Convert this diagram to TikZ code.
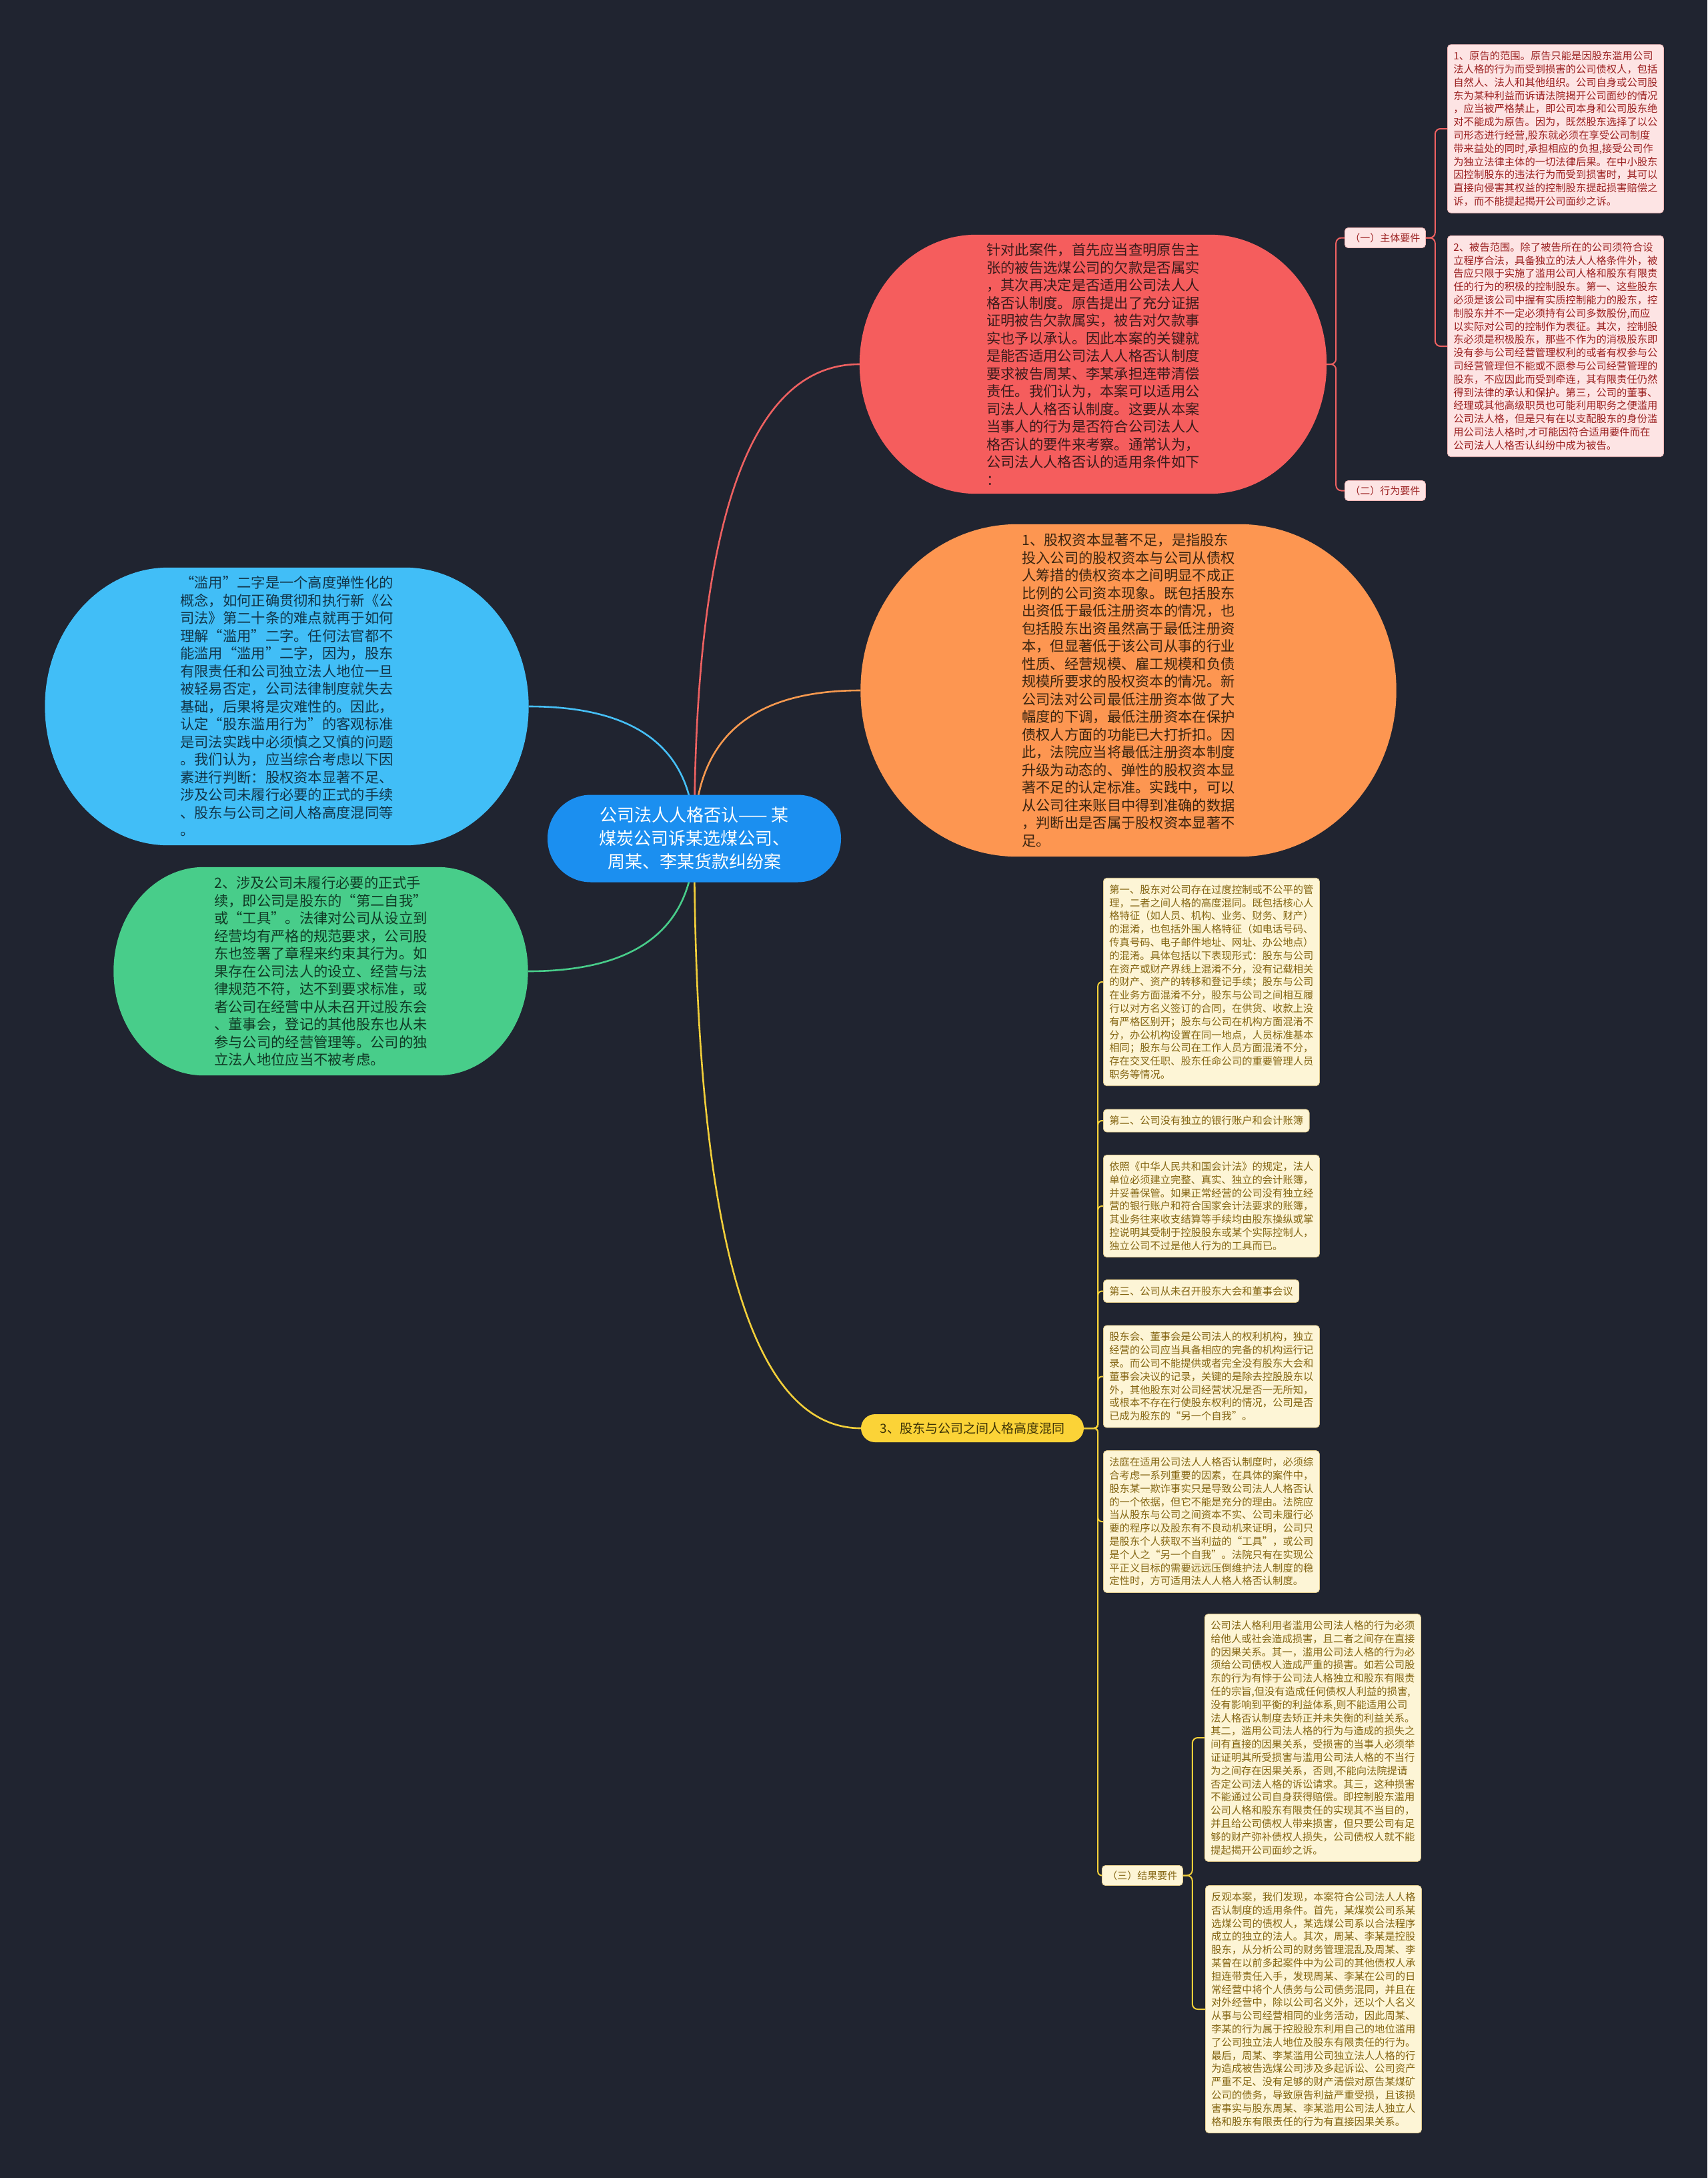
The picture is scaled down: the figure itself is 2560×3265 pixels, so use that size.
\documentclass[tikz,border=0pt]{standalone}
\usepackage{fontspec}
\setmainfont{Noto Sans CJK SC}
\usetikzlibrary{calc}
\pgfdeclarelayer{back}
\pgfdeclarelayer{bg}
\pgfdeclarelayer{mid}
\pgfsetlayers{back,bg,mid,main}

\definecolor{bgc}{HTML}{202430}
\definecolor{redfill}{HTML}{F55D5D}
\definecolor{redtxt}{HTML}{3A1B1B}
\definecolor{redline}{HTML}{EE6161}
\definecolor{orgfill}{HTML}{FD9651}
\definecolor{orgtxt}{HTML}{3A2410}
\definecolor{orgline}{HTML}{F7994F}
\definecolor{blufill}{HTML}{41BEF7}
\definecolor{blutxt}{HTML}{123549}
\definecolor{bluline}{HTML}{46BFF6}
\definecolor{grnfill}{HTML}{48CD8A}
\definecolor{grntxt}{HTML}{103A25}
\definecolor{grnline}{HTML}{48CD8A}
\definecolor{ctrfill}{HTML}{1B8FF0}
\definecolor{yelfill}{HTML}{FBD337}
\definecolor{yeltxt}{HTML}{3D3306}
\definecolor{yelline}{HTML}{F2CF3A}
\definecolor{pinkfill}{HTML}{FDE4E4}
\definecolor{pinkline}{HTML}{F0B5B5}
\definecolor{pinktxt}{HTML}{9B2020}
\definecolor{creamfill}{HTML}{FDF5D6}
\definecolor{creamline}{HTML}{E0C98A}
\definecolor{creamtxt}{HTML}{846512}

% elliptical-corner blob behind a node: name, rx, ry, colour
\newcommand\blobfill[4]{%
\begin{pgfonlayer}{mid}
\fill[#4] ($(#1.north west)+(#2,0)$) -- ($(#1.north east)+(-#2,0)$)
  arc[start angle=90,end angle=0,x radius=#2pt,y radius=#3pt]
  -- ($(#1.south east)+(0,-#3)$)
  arc[start angle=0,end angle=-90,x radius=#2pt,y radius=#3pt]
  -- ($(#1.south west)+(#2,0)$)
  arc[start angle=-90,end angle=-180,x radius=#2pt,y radius=#3pt]
  -- ($(#1.north west)+(0,#3)$)
  arc[start angle=180,end angle=90,x radius=#2pt,y radius=#3pt]
  -- cycle;
\end{pgfonlayer}}

\begin{document}
\begin{tikzpicture}[x=1pt,y=-1pt,
  bigtext/.style={inner sep=0pt, align=left, font=\fontsize{21.3}{26.5}\selectfont},
  smallbox/.style={anchor=west, rounded corners=5pt, inner xsep=9pt, inner ysep=10pt,
     align=left, font=\fontsize{15.3}{19.8}\selectfont, line width=0.8pt},
  creambox/.style={smallbox, fill=creamfill, draw=creamline, text=creamtxt},
  pinkbox/.style={smallbox, fill=pinkfill, draw=pinkline, text=pinktxt},
  widebox/.style={text width=306pt},
  shortbox/.style={inner ysep=0pt, minimum height=34pt},
  tagbox/.style={anchor=west, rounded corners=5pt, inner xsep=8pt, inner ysep=0pt,
     minimum height=30pt, font=\fontsize{15}{18}\selectfont, line width=0.8pt},
  mainlink/.style={line width=2.6pt},
  sublink/.style={line width=2pt, rounded corners=8pt}
]
\begin{pgfonlayer}{back}
\fill[bgc] (0,0) rectangle (2560,3265);
\end{pgfonlayer}

% ---- central topic ----
\node[fill=ctrfill, text=white, rounded corners=65pt, minimum width=440pt,
      minimum height=131pt, inner sep=0pt, align=center,
      font=\fontsize{26}{35}\selectfont] (ctr) at (1041,1257)
  {公司法人人格否认—— 某\\煤炭公司诉某选煤公司、\\周某、李某货款纠纷案};

% ---- red ----
\node[bigtext, text=redtxt, minimum width=700pt, minimum height=388pt] (red) at (1639,546)
{针对此案件，首先应当查明原告主\\
张的被告选煤公司的欠款是否属实\\
，其次再决定是否适用公司法人人\\
格否认制度。原告提出了充分证据\\
证明被告欠款属实，被告对欠款事\\
实也予以承认。因此本案的关键就\\
是能否适用公司法人人格否认制度\\
要求被告周某、李某承担连带清偿\\
责任。我们认为，本案可以适用公\\
司法人人格否认制度。这要从本案\\
当事人的行为是否符合公司法人人\\
格否认的要件来考察。通常认为，\\
公司法人人格否认的适用条件如下\\
：};
\blobfill{red}{175}{194}{redfill}

% ---- orange ----
\node[bigtext, text=orgtxt, minimum width=803pt, minimum height=498pt] (org) at (1692,1035)
{1、股权资本显著不足，是指股东\\
投入公司的股权资本与公司从债权\\
人筹措的债权资本之间明显不成正\\
比例的公司资本现象。既包括股东\\
出资低于最低注册资本的情况，也\\
包括股东出资虽然高于最低注册资\\
本，但显著低于该公司从事的行业\\
性质、经营规模、雇工规模和负债\\
规模所要求的股权资本的情况。新\\
公司法对公司最低注册资本做了大\\
幅度的下调，最低注册资本在保护\\
债权人方面的功能已大打折扣。因\\
此，法院应当将最低注册资本制度\\
升级为动态的、弹性的股权资本显\\
著不足的认定标准。实践中，可以\\
从公司往来账目中得到准确的数据\\
，判断出是否属于股权资本显著不\\
足。};
\blobfill{org}{235}{249}{orgfill}

% ---- blue ----
\node[bigtext, text=blutxt, minimum width=725pt, minimum height=416pt] (blu) at (430,1059)
{“滥用”二字是一个高度弹性化的\\
概念，如何正确贯彻和执行新《公\\
司法》第二十条的难点就再于如何\\
理解“滥用”二字。任何法官都不\\
能滥用“滥用”二字，因为，股东\\
有限责任和公司独立法人地位一旦\\
被轻易否定，公司法律制度就失去\\
基础，后果将是灾难性的。因此，\\
认定“股东滥用行为”的客观标准\\
是司法实践中必须慎之又慎的问题\\
。我们认为，应当综合考虑以下因\\
素进行判断：股权资本显著不足、\\
涉及公司未履行必要的正式的手续\\
、股东与公司之间人格高度混同等\\
。};
\blobfill{blu}{185}{208}{blufill}

% ---- green ----
\node[bigtext, text=grntxt, minimum width=621pt, minimum height=312pt] (grn) at (481,1456)
{2、涉及公司未履行必要的正式手\\
续，即公司是股东的“第二自我”\\
或“工具”。法律对公司从设立到\\
经营均有严格的规范要求，公司股\\
东也签署了章程来约束其行为。如\\
果存在公司法人的设立、经营与法\\
律规范不符，达不到要求标准，或\\
者公司在经营中从未召开过股东会\\
、董事会，登记的其他股东也从未\\
参与公司的经营管理等。公司的独\\
立法人地位应当不被考虑。};
\blobfill{grn}{135}{156}{grnfill}

% ---- red sub-branches ----
\node[tagbox, fill=pinkfill, draw=pinkline, text=pinktxt] (l1) at (2016,356.5) {（一）主体要件};
\node[tagbox, fill=pinkfill, draw=pinkline, text=pinktxt] (l2) at (2016,735.5) {（二）行为要件};

\node[pinkbox, widebox] (p1) at (2170,193)
{1、原告的范围。原告只能是因股东滥用公司\\
法人格的行为而受到损害的公司债权人，包括\\
自然人、法人和其他组织。公司自身或公司股\\
东为某种利益而诉请法院揭开公司面纱的情况\\
，应当被严格禁止，即公司本身和公司股东绝\\
对不能成为原告。因为，既然股东选择了以公\\
司形态进行经营,股东就必须在享受公司制度\\
带来益处的同时,承担相应的负担,接受公司作\\
为独立法律主体的一切法律后果。在中小股东\\
因控制股东的违法行为而受到损害时，其可以\\
直接向侵害其权益的控制股东提起损害赔偿之\\
诉，而不能提起揭开公司面纱之诉。};

\node[pinkbox, widebox] (p2) at (2170,519)
{2、被告范围。除了被告所在的公司须符合设\\
立程序合法，具备独立的法人人格条件外，被\\
告应只限于实施了滥用公司人格和股东有限责\\
任的行为的积极的控制股东。第一、这些股东\\
必须是该公司中握有实质控制能力的股东，控\\
制股东并不一定必须持有公司多数股份,而应\\
以实际对公司的控制作为表征。其次，控制股\\
东必须是积极股东，那些不作为的消极股东即\\
没有参与公司经营管理权利的或者有权参与公\\
司经营管理但不能或不愿参与公司经营管理的\\
股东，不应因此而受到牵连，其有限责任仍然\\
得到法律的承认和保护。第三，公司的董事、\\
经理或其他高级职员也可能利用职务之便滥用\\
公司法人格，但是只有在以支配股东的身份滥\\
用公司法人格时,才可能因符合适用要件而在\\
公司法人人格否认纠纷中成为被告。};

% ---- yellow branch ----
\node[fill=yelfill, text=yeltxt, rounded corners=21pt, minimum width=334pt,
      minimum height=42pt, inner sep=0pt, font=\fontsize{19}{22}\selectfont] (yel) at (1458,2141)
  {3、股东与公司之间人格高度混同};

\node[creambox, widebox] (ca) at (1654,1472)
{第一、股东对公司存在过度控制或不公平的管\\
理，二者之间人格的高度混同。既包括核心人\\
格特征（如人员、机构、业务、财务、财产）\\
的混淆，也包括外围人格特征（如电话号码、\\
传真号码、电子邮件地址、网址、办公地点）\\
的混淆。具体包括以下表现形式：股东与公司\\
在资产或财产界线上混淆不分，没有记载相关\\
的财产、资产的转移和登记手续；股东与公司\\
在业务方面混淆不分，股东与公司之间相互履\\
行以对方名义签订的合同，在供货、收款上没\\
有严格区别开；股东与公司在机构方面混淆不\\
分，办公机构设置在同一地点，人员标准基本\\
相同；股东与公司在工作人员方面混淆不分，\\
存在交叉任职、股东任命公司的重要管理人员\\
职务等情况。};

\node[creambox, shortbox] (cb) at (1654,1680) {第二、公司没有独立的银行账户和会计账簿};

\node[creambox, widebox] (cc) at (1654,1808)
{依照《中华人民共和国会计法》的规定，法人\\
单位必须建立完整、真实、独立的会计账簿，\\
并妥善保管。如果正常经营的公司没有独立经\\
营的银行账户和符合国家会计法要求的账簿，\\
其业务往来收支结算等手续均由股东操纵或掌\\
控说明其受制于控股股东或某个实际控制人，\\
独立公司不过是他人行为的工具而已。};

\node[creambox, shortbox] (cd) at (1654,1935.5) {第三、公司从未召开股东大会和董事会议};

\node[creambox, widebox] (ce) at (1654,2063.5)
{股东会、董事会是公司法人的权利机构，独立\\
经营的公司应当具备相应的完备的机构运行记\\
录。而公司不能提供或者完全没有股东大会和\\
董事会决议的记录，关键的是除去控股股东以\\
外，其他股东对公司经营状况是否一无所知，\\
或根本不存在行使股东权利的情况，公司是否\\
已成为股东的“另一个自我”。};

\node[creambox, widebox] (cf) at (1654,2281)
{法庭在适用公司法人人格否认制度时，必须综\\
合考虑一系列重要的因素，在具体的案件中，\\
股东某一欺诈事实只是导致公司法人人格否认\\
的一个依据，但它不能是充分的理由。法院应\\
当从股东与公司之间资本不实、公司未履行必\\
要的程序以及股东有不良动机来证明，公司只\\
是股东个人获取不当利益的“工具”，或公司\\
是个人之“另一个自我”。法院只有在实现公\\
平正义目标的需要远远压倒维护法人制度的稳\\
定性时，方可适用法人人格人格否认制度。};

\node[tagbox, fill=creamfill, draw=creamline, text=creamtxt] (l3) at (1652,2811.5) {（三）结果要件};

\node[creambox, widebox] (ch) at (1806,2605)
{公司法人格利用者滥用公司法人格的行为必须\\
给他人或社会造成损害，且二者之间存在直接\\
的因果关系。其一，滥用公司法人格的行为必\\
须给公司债权人造成严重的损害。如若公司股\\
东的行为有悖于公司法人格独立和股东有限责\\
任的宗旨,但没有造成任何债权人利益的损害,\\
没有影响到平衡的利益体系,则不能适用公司\\
法人格否认制度去矫正并未失衡的利益关系。\\
其二，滥用公司法人格的行为与造成的损失之\\
间有直接的因果关系，受损害的当事人必须举\\
证证明其所受损害与滥用公司法人格的不当行\\
为之间存在因果关系，否则,不能向法院提请\\
否定公司法人格的诉讼请求。其三，这种损害\\
不能通过公司自身获得赔偿。即控制股东滥用\\
公司人格和股东有限责任的实现其不当目的，\\
并且给公司债权人带来损害，但只要公司有足\\
够的财产弥补债权人损失，公司债权人就不能\\
提起揭开公司面纱之诉。};

\node[creambox, widebox] (ci) at (1807,3012)
{反观本案，我们发现，本案符合公司法人人格\\
否认制度的适用条件。首先，某煤炭公司系某\\
选煤公司的债权人，某选煤公司系以合法程序\\
成立的独立的法人。其次，周某、李某是控股\\
股东，从分析公司的财务管理混乱及周某、李\\
某曾在以前多起案件中为公司的其他债权人承\\
担连带责任入手，发现周某、李某在公司的日\\
常经营中将个人债务与公司债务混同，并且在\\
对外经营中，除以公司名义外，还以个人名义\\
从事与公司经营相同的业务活动，因此周某、\\
李某的行为属于控股股东利用自己的地位滥用\\
了公司独立法人地位及股东有限责任的行为。\\
最后，周某、李某滥用公司独立法人人格的行\\
为造成被告选煤公司涉及多起诉讼、公司资产\\
严重不足、没有足够的财产清偿对原告某煤矿\\
公司的债务，导致原告利益严重受损，且该损\\
害事实与股东周某、李某滥用公司法人独立人\\
格和股东有限责任的行为有直接因果关系。};

% ---- connectors ----
\begin{pgfonlayer}{bg}
\draw[mainlink, redline] (ctr.center) .. controls +(0,-474) and +(-165,0) .. (red.west);
\draw[mainlink, orgline] (ctr.center) .. controls +(0,-148) and +(-167,0) .. (org.west);
\draw[mainlink, bluline] (ctr.center) .. controls +(0,-132) and +(166,0) .. (blu.east);
\draw[mainlink, grnline] (ctr.center) .. controls +(0,133) and +(166,0) .. (grn.east);
\draw[mainlink, yelline] (ctr.center) .. controls +(0,589) and +(-167,0) .. (yel.west);

\draw[sublink, redline] (red.east) -- ++(14,0) |- (l1.west);
\draw[sublink, redline] (red.east) -- ++(14,0) |- (l2.west);
\draw[sublink, redline] (l1.east) -- ++(14,0) |- (p1.west);
\draw[sublink, redline] (l1.east) -- ++(14,0) |- (p2.west);

\foreach \c in {ca,cb,cc,cd,ce,cf,l3}
  \draw[sublink, yelline, rounded corners=6pt] (yel.east) -- ++(21,0) |- (\c.west);
\draw[sublink, yelline] (l3.east) -- ++(14,0) |- (ch.west);
\draw[sublink, yelline] (l3.east) -- ++(14,0) |- (ci.west);
\end{pgfonlayer}
\end{tikzpicture}
\end{document}
